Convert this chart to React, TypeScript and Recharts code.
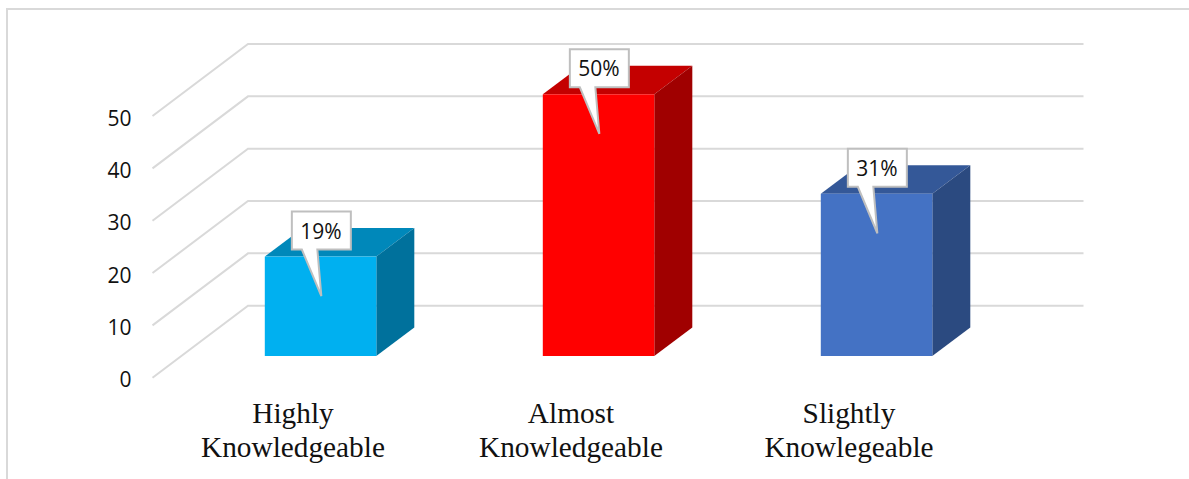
import { BarChart, Bar, XAxis, YAxis, CartesianGrid, LabelList } from 'recharts'

const categories = ['Highly Knowledgeable', 'Almost Knowledgeable', 'Slightly Knowlegeable']
const percentages = [19, 50, 31]
const yTicks = [0, 10, 20, 30, 40, 50]

const frontColors = ['#00B0F0', '#FF0000', '#4472C4']
const topColors = ['#0088BA', '#C40000', '#345898']
const sideColors = ['#00719C', '#A00000', '#2B4A80']

const data = categories.map((name, i) => ({ name, value: percentages[i] }))

// projection of the fake 3D box
const FLOOR_DX = 95.5
const FLOOR_DY = 72
const BAR_DX = 29.3
const BAR_DY = -21.7
const DEPTH_X = 38
const DEPTH_Y = 28.5

const GridLine = ({ x1, y1, x2 }: any) => (
    <polyline
        points={`${x1},${y1} ${x1 + FLOOR_DX},${y1 - FLOOR_DY} ${x2 + FLOOR_DX + 1.5},${y1 - FLOOR_DY}`}
        fill="none"
        stroke="#d9d9d9"
        strokeWidth={2}
    />
)

const Box = ({ x, y, width, height, index }: any) => {
    const left = x + BAR_DX
    const right = left + width
    const top = y + BAR_DY
    const bottom = y + height + BAR_DY
    return (
        <g>
            <polygon
                points={`${left},${top} ${left + DEPTH_X},${top - DEPTH_Y} ${right + DEPTH_X},${top - DEPTH_Y} ${right},${top}`}
                fill={topColors[index]}
            />
            <polygon
                points={`${right},${top} ${right + DEPTH_X},${top - DEPTH_Y} ${right + DEPTH_X},${bottom - DEPTH_Y} ${right},${bottom}`}
                fill={sideColors[index]}
            />
            <rect x={left} y={top} width={width} height={height} fill={frontColors[index]} />
        </g>
    )
}

const Callout = (props: any) => {
    const box = props.viewBox ?? props
    const cx = box.x + box.width / 2 + BAR_DX + 0.8
    const top = box.y + BAR_DY
    const boxTop = top - 45
    const boxBottom = top - 7
    const path = [
        `M${cx - 29.5},${boxTop}`,
        `H${cx + 29.5}`,
        `V${boxBottom}`,
        `H${cx - 4}`,
        `L${cx},${top + 39.5}`,
        `L${cx - 19.5},${boxBottom}`,
        `H${cx - 29.5}`,
        'Z'
    ].join(' ')
    return (
        <g>
            <path d={path} fill="#fff" stroke="#bfbfbf" strokeWidth={2} />
            <text
                x={cx - 0.5}
                y={boxTop + 27}
                textAnchor="middle"
                fontFamily="'Open Sans', sans-serif"
                fontSize={21}
                fill="#111"
            >
                {props.value}%
            </text>
        </g>
    )
}

const CategoryTick = ({ x, y, payload }: any) => {
    const words = String(payload.value).split(' ')
    return (
        <text x={x} textAnchor="middle" fontFamily="'Liberation Serif', serif" fontSize={29.3} fill="#111">
            {words.map((word, i) => (
                <tspan key={word} x={x + 1.5} y={y + 43.5 + i * 33.3}>
                    {word}
                </tspan>
            ))}
        </text>
    )
}

const ValueTick = ({ x, y, payload }: any) => (
    <text x={x} y={y + 9.5} textAnchor="end" fontFamily="'Open Sans', sans-serif" fontSize={21} fill="#111">
        {payload.value}
    </text>
)

export default function App() {
    return (
        <div style={{ position: 'absolute', left: 0, top: 0, width: 1189, height: 479, overflow: 'hidden', background: '#fff' }}>
            <div
                style={{
                    position: 'absolute',
                    left: 6,
                    top: 8,
                    width: 1183,
                    height: 471,
                    boxSizing: 'border-box',
                    borderLeft: '2px solid #d9d9d9',
                    borderTop: '2px solid #d9d9d9'
                }}
            />
            <BarChart
                width={1189}
                height={479}
                data={data}
                margin={{ top: 116, right: 202.5, bottom: 0, left: 0 }}
                style={{ position: 'absolute', left: 0, top: 0 }}
            >
                <CartesianGrid vertical={false} horizontal={(p: any) => <GridLine key={p.key} {...p} />} />
                <XAxis
                    dataKey="name"
                    height={101.3}
                    axisLine={false}
                    tickLine={false}
                    tickSize={0}
                    interval={0}
                    tick={<CategoryTick />}
                />
                <YAxis
                    width={152.5}
                    domain={[0, 50]}
                    ticks={yTicks}
                    axisLine={false}
                    tickLine={false}
                    tickSize={0}
                    tickMargin={21}
                    tick={<ValueTick />}
                />
                <Bar dataKey="value" barSize={111.5} shape={<Box />} isAnimationActive={false}>
                    <LabelList dataKey="value" content={<Callout />} />
                </Bar>
            </BarChart>
        </div>
    )
}
